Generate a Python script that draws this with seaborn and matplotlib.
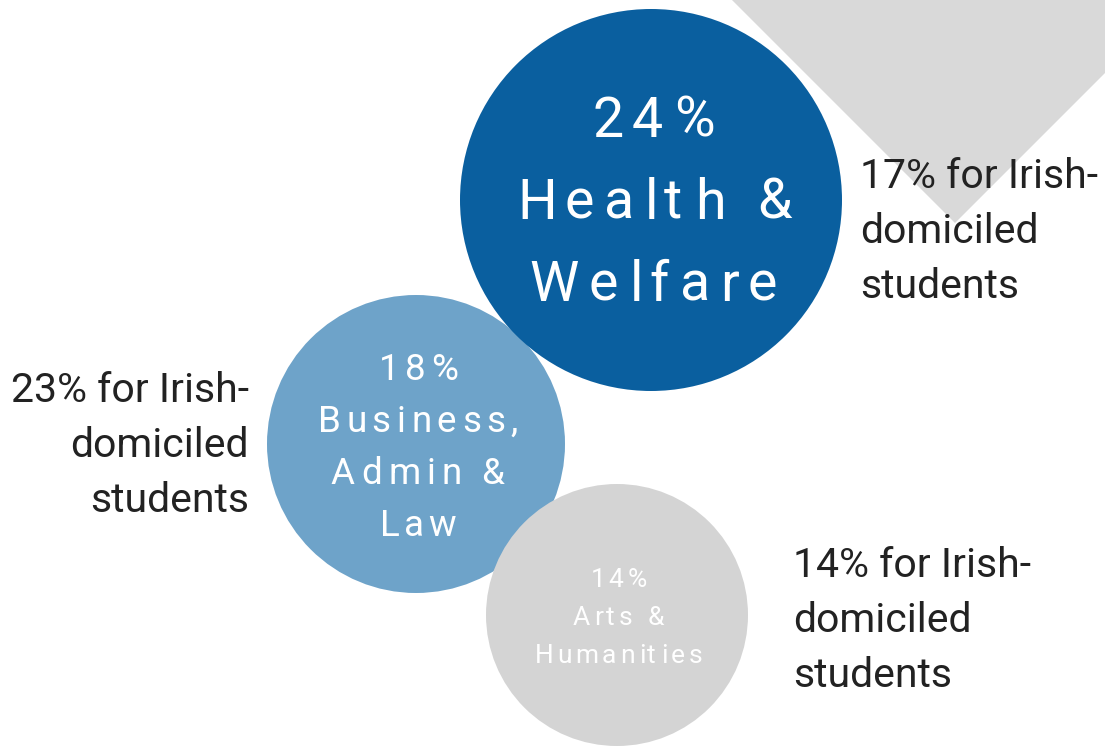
import numpy as np
import pandas as pd
import matplotlib
matplotlib.use('Agg')
import matplotlib.pyplot as plt
import seaborn as sns
from matplotlib import font_manager
from matplotlib.font_manager import FontProperties
from matplotlib.ft2font import FT2Font
from matplotlib.patches import Polygon

try:
    from matplotlib.ft2font import LoadFlags
    NO_HINT = LoadFlags.NO_HINTING
except ImportError:
    from matplotlib.ft2font import LOAD_NO_HINTING as NO_HINT

# data
fields = ['Health & Welfare', 'Business, Admin & Law', 'Arts & Humanities']
field_lines = [['Health &', 'Welfare'], ['Business,', 'Admin &', 'Law'], ['Arts &', 'Humanities']]
share = [24, 18, 14]          # share of international students
irish_share = [17, 23, 14]    # share of Irish-domiciled students

# layout (pixels, figure is 1105x748)
W, H = 1105, 748
bubble_x = [651, 416, 617]
bubble_y = [200, 444, 615]
bubble_diam = [382, 298, 262]
bubble_colors = ['#0a5f9f', '#6ea3c9', '#d4d4d4']
draw_order = [1, 0, 2]
text_y = [199, 444.5, 616]
text_pt = [40, 26.5, 19]
text_gap = [82, 52, 38]
text_track = [0.17, 0.155, 0.145]
label_x = [860, 249, 793]
label_y = [188, 402, 577]
label_ha = ['left', 'right', 'left']
label_pt = 29.5
label_gap = 55

sns.set_theme(style='white')
plt.rcParams['font.family'] = ['Roboto', 'DejaVu Sans']
DPI = 100
fp = FontProperties(family='Roboto')
font = FT2Font(font_manager.findfont(fp))


def tracked_line(ax, cx, base, s, pt, track, color):
    # matplotlib has no letter-spacing, so place glyphs one by one
    font.set_size(pt, DPI)
    em = pt * DPI / 72
    glyphs = [font.load_char(ord(ch), flags=NO_HINT) for ch in s]
    adv = [g.linearHoriAdvance / 65536 for g in glyphs]
    total = sum(adv) + track * em * (len(s) - 1)
    x = cx - total / 2
    for ch, g, a in zip(s, glyphs, adv):
        if ch != ' ':
            ax.text(x + g.horiBearingX / 64, base, ch, fontsize=pt, color=color,
                    ha='left', va='baseline', family='Roboto', zorder=5)
        x += a + track * em


fig = plt.figure(figsize=(W / DPI, H / DPI), dpi=DPI)
ax = fig.add_axes([0, 0, 1, 1])

# grey corner triangle
ax.add_patch(Polygon([(732, 0), (955, 223), (1105, 73), (1105, 0)],
                     closed=True, facecolor='#d9d9d9', edgecolor='none', zorder=0))

df = pd.DataFrame({'field': fields, 'share': share, 'x': bubble_x, 'y': bubble_y})
df = df.iloc[draw_order]
sizes = {f: (d * 72 / DPI) ** 2 for f, d in zip(fields, bubble_diam)}
palette = dict(zip(fields, bubble_colors))
sns.scatterplot(data=df, x='x', y='y', hue='field', size='field', sizes=sizes,
                palette=palette, linewidth=0, alpha=1, legend=False, ax=ax, zorder=2)
ax.set_xlim(0, W)
ax.set_ylim(H, 0)
ax.axis('off')

for i, f in enumerate(fields):
    lines = [f'{share[i]}%'] + field_lines[i]
    n = len(lines)
    cap = 0.711 * text_pt[i] * DPI / 72
    for j, s in enumerate(lines):
        yc = text_y[i] + (j - (n - 1) / 2) * text_gap[i]
        tracked_line(ax, bubble_x[i], yc + cap / 2, s, text_pt[i], text_track[i], 'white')

for i in range(len(fields)):
    lines = [f'{irish_share[i]}% for Irish-', 'domiciled', 'students']
    for j, s in enumerate(lines):
        ax.text(label_x[i], label_y[i] + j * label_gap, s, fontsize=label_pt,
                color='#222222', ha=label_ha[i], va='baseline', zorder=5)

fig.savefig('out.png', dpi=DPI)
